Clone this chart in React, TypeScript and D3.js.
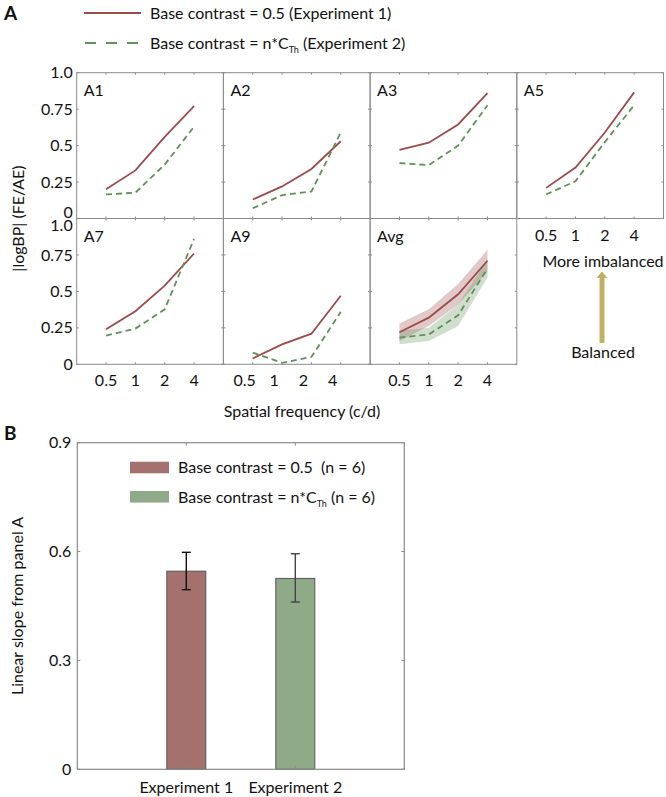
import React from "react";
import * as d3 from "d3";

const sfLabels = ["0.5", "1", "2", "4"];
const yTicksA = [0, 0.25, 0.5, 0.75, 1.0];
const yTickLabelsA = ["0", "0.25", "0.5", "0.75", "1.0"];

const panelNames = ["A1", "A2", "A3", "A5", "A7", "A9", "Avg"];
const exp1A1 = [0.2, 0.33, 0.56, 0.77];
const exp2A1 = [0.165, 0.177, 0.37, 0.63];
const exp1A2 = [0.13, 0.22, 0.34, 0.53];
const exp2A2 = [0.07, 0.16, 0.185, 0.59];
const exp1A3 = [0.47, 0.52, 0.645, 0.86];
const exp2A3 = [0.38, 0.366, 0.5, 0.777];
const exp1A5 = [0.21, 0.35, 0.59, 0.865];
const exp2A5 = [0.165, 0.256, 0.524, 0.777];
const exp1A7 = [0.24, 0.364, 0.54, 0.76];
const exp2A7 = [0.197, 0.245, 0.377, 0.86];
const exp1A9 = [0.04, 0.137, 0.21, 0.47];
const exp2A9 = [0.08, 0.01, 0.05, 0.36];
const exp1Avg = [0.22, 0.32, 0.48, 0.71];
const exp1AvgLo = [0.16, 0.262, 0.41, 0.635];
const exp1AvgHi = [0.28, 0.377, 0.55, 0.785];
const exp2Avg = [0.183, 0.205, 0.336, 0.657];
const exp2AvgLo = [0.137, 0.16, 0.263, 0.595];
const exp2AvgHi = [0.23, 0.25, 0.41, 0.72];

const barCategories = ["Experiment 1", "Experiment 2"];
const barValues = [0.546, 0.526];
const barErrLo = [0.495, 0.461];
const barErrHi = [0.598, 0.594];
const yTicksB = [0, 0.3, 0.6, 0.9];

const RED = "#9c4b4b";
const GREEN = "#5f9158";
const BAR_RED = "#a5716f";
const BAR_GREEN = "#8faa89";
const AXIS = "#8a8a8a";
const FONT = "Lato, 'Open Sans', sans-serif";
const FS = 16;

const W = 146.7;
const H = 145.8;
const left0 = 76.7;
const top0 = 72.7;

const panelPos = [
  [0, 0], [1, 0], [2, 0], [3, 0],
  [0, 1], [1, 1], [2, 1],
];
const xLabelShift = [0, 0, 0, 0, 0, -8, 0];

const seriesData = [
  [exp1A1, exp2A1], [exp1A2, exp2A2], [exp1A3, exp2A3], [exp1A5, exp2A5],
  [exp1A7, exp2A7], [exp1A9, exp2A9], [exp1Avg, exp2Avg],
];

function Panel({ idx }: { idx: number }) {
  const [c, r] = panelPos[idx];
  const x0 = left0 + c * W;
  const y0 = top0 + r * H;
  const x = d3.scaleLinear().domain([-1, 4]).range([x0, x0 + W]);
  const y = d3.scaleLinear().domain([0, 1]).range([y0 + H, y0]);
  const line = d3.line<number>().x((_, i) => x(i)).y((v) => y(v));
  const area = (lo: number[], hi: number[]) =>
    d3.area<number>().x((_, i) => x(i)).y0((_, i) => y(lo[i])).y1((v) => y(v))(hi) || "";
  const [s1, s2] = seriesData[idx];
  const tl = 2;
  const showYLabels = c === 0;
  const showXLabels = r === 1 || idx === 3;
  return (
    <g>
      {idx === 6 && (
        <g>
          <path d={area(exp1AvgLo, exp1AvgHi)} fill={RED} opacity={0.3} />
          <path d={area(exp2AvgLo, exp2AvgHi)} fill={GREEN} opacity={0.3} />
        </g>
      )}
      <path d={line(s1) || ""} fill="none" stroke={RED} strokeWidth={1.8} />
      <path d={line(s2) || ""} fill="none" stroke={GREEN} strokeWidth={1.8} strokeDasharray="6,4" />
      <rect x={x0} y={y0} width={W} height={H} fill="none" stroke={AXIS} strokeWidth={1} />
      {sfLabels.map((_, i) => (
        <g key={"xt" + i}>
          <line x1={x(i)} x2={x(i)} y1={y0} y2={y0 + tl} stroke={AXIS} />
          <line x1={x(i)} x2={x(i)} y1={y0 + H} y2={y0 + H - tl} stroke={AXIS} />
        </g>
      ))}
      {yTicksA.map((t, i) => (
        <g key={"yt" + i}>
          <line x1={x0} x2={x0 + tl} y1={y(t)} y2={y(t)} stroke={AXIS} />
          <line x1={x0 + W} x2={x0 + W - tl} y1={y(t)} y2={y(t)} stroke={AXIS} />
        </g>
      ))}
      {showYLabels &&
        yTicksA.map((t, i) => {
          let dy = 0;
          if (r === 0 && t === 0) dy = -6.5;
          if (r === 1 && t === 1) dy = 7;
          return (
            <text key={"yl" + i} x={x0 - 4} y={y(t) + dy} dy="0.35em" textAnchor="end" fontSize={FS} fontFamily={FONT} fill="#111">
              {yTickLabelsA[i]}
            </text>
          );
        })}
      {showXLabels &&
        sfLabels.map((l, i) => (
          <text key={"xl" + i} x={x(i) + xLabelShift[idx]} y={y0 + H + 22} textAnchor="middle" fontSize={FS} fontFamily={FONT} fill="#111">
            {l}
          </text>
        ))}
      <text x={x0 + 7} y={y0 + 23} fontSize={FS} fontFamily={FONT} fill="#111">
        {panelNames[idx]}
      </text>
    </g>
  );
}

function PanelB() {
  const x = d3.scaleLinear().domain([0, 3]).range([77.3, 404.3]);
  const y = d3.scaleLinear().domain([0, 0.9]).range([769.3, 442.7]);
  const bw = 39;
  const colors = [BAR_RED, BAR_GREEN];
  const errColors = ["#111", "#444"];
  const tl = 3;
  return (
    <g>
      {barValues.map((v, i) => (
        <rect key={"b" + i} x={x(i + 1) - bw / 2} y={y(v)} width={bw} height={y(0) - y(v)} fill={colors[i]} stroke="#555" strokeWidth={1} />
      ))}
      <rect x={x(0)} y={y(0.9)} width={x(3) - x(0)} height={y(0) - y(0.9)} fill="none" stroke={AXIS} strokeWidth={1.2} />
      {barCategories.map((c, i) => (
        <g key={"xt" + i}>
          <line x1={x(i + 1)} x2={x(i + 1)} y1={y(0.9)} y2={y(0.9) + tl} stroke={AXIS} />
          <line x1={x(i + 1)} x2={x(i + 1)} y1={y(0)} y2={y(0) - tl} stroke={AXIS} />
          <text x={x(i + 1)} y={y(0) + 24} textAnchor="middle" fontSize={FS} fontFamily={FONT} fill="#111">
            {c}
          </text>
        </g>
      ))}
      {yTicksB.map((t, i) => (
        <g key={"yt" + i}>
          <line x1={x(0)} x2={x(0) + tl} y1={y(t)} y2={y(t)} stroke={AXIS} />
          <line x1={x(3)} x2={x(3) - tl} y1={y(t)} y2={y(t)} stroke={AXIS} />
          <text x={x(0) - 6} y={y(t)} dy="0.35em" textAnchor="end" fontSize={FS} fontFamily={FONT} fill="#111">
            {t === 0 ? "0" : t.toFixed(1)}
          </text>
        </g>
      ))}
      {barValues.map((_, i) => (
        <g key={"e" + i} stroke={errColors[i]} strokeWidth={1.4}>
          <line x1={x(i + 1)} x2={x(i + 1)} y1={y(barErrLo[i])} y2={y(barErrHi[i])} />
          <line x1={x(i + 1) - 4.5} x2={x(i + 1) + 4.5} y1={y(barErrLo[i])} y2={y(barErrLo[i])} />
          <line x1={x(i + 1) - 4.5} x2={x(i + 1) + 4.5} y1={y(barErrHi[i])} y2={y(barErrHi[i])} />
        </g>
      ))}
      <rect x={130} y={461.7} width={39} height={11.6} fill={BAR_RED} />
      <text x={178} y={467.5} dy="0.35em" fontSize={FS} fontFamily={FONT} fill="#111">
        Base contrast = 0.5{"\u00a0\u00a0"}(n = 6)
      </text>
      <rect x={130} y={491} width={39} height={11.6} fill={BAR_GREEN} />
      <text x={178} y={497} dy="0.35em" fontSize={FS} fontFamily={FONT} fill="#111">
        Base contrast = n*C<tspan fontSize={9} dy={4}>Th</tspan>
        <tspan dy={-4}> (n = 6)</tspan>
      </text>
      <text transform={`translate(23,${(y(0) + y(0.9)) / 2}) rotate(-90)`} textAnchor="middle" fontSize={FS} fontFamily={FONT} fill="#111">
        Linear slope from panel A
      </text>
    </g>
  );
}

export default function App() {
  return (
    <svg width={666} height={797} style={{ position: "absolute", left: 0, top: 0 }}>
      <rect width={666} height={797} fill="#fff" />
      <text x={4} y={20} fontSize={19} fontWeight="bold" fontFamily={FONT} fill="#111">A</text>
      <text x={4} y={440} fontSize={19} fontWeight="bold" fontFamily={FONT} fill="#111">B</text>
      <line x1={84} x2={141} y1={13} y2={13} stroke={RED} strokeWidth={2.2} />
      <text x={150} y={13} dy="0.35em" fontSize={FS} fontFamily={FONT} fill="#111">Base contrast = 0.5 (Experiment 1)</text>
      <line x1={85} x2={141} y1={43} y2={43} stroke={GREEN} strokeWidth={2.2} strokeDasharray="11,10" />
      <text x={150} y={43} dy="0.35em" fontSize={FS} fontFamily={FONT} fill="#111">
        Base contrast = n*C<tspan fontSize={9} dy={4}>Th</tspan>
        <tspan dy={-4}> (Experiment 2)</tspan>
      </text>
      {panelNames.map((_, i) => (
        <Panel key={i} idx={i} />
      ))}
      <text transform={`translate(24,${top0 + H}) rotate(-90)`} textAnchor="middle" fontSize={FS} fontFamily={FONT} fill="#111">
        |logBP| (FE/AE)
      </text>
      <text x={302} y={417} textAnchor="middle" fontSize={FS} fontFamily={FONT} fill="#111">Spatial frequency (c/d)</text>
      <text x={603} y={267} textAnchor="middle" fontSize={FS} fontFamily={FONT} fill="#111">More imbalanced</text>
      <rect x={599.5} y={277} width={5} height={66} fill="#bfb163" />
      <path d="M 596.5 278 L 602 271.5 L 607.5 278 Z" fill="#bfb163" />
      <text x={603} y={358} textAnchor="middle" fontSize={FS} fontFamily={FONT} fill="#111">Balanced</text>
      <PanelB />
    </svg>
  );
}
